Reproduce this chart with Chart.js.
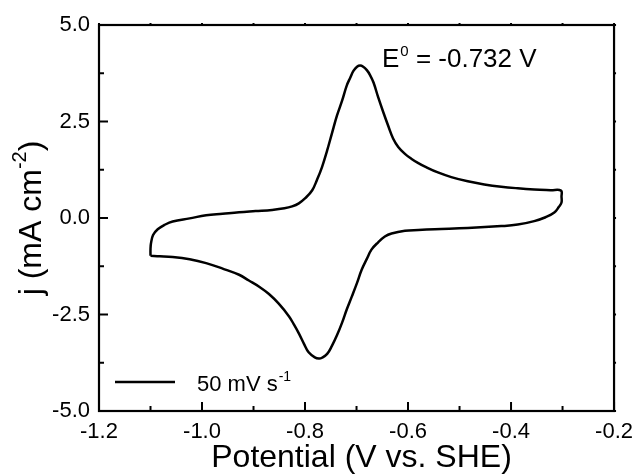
<!DOCTYPE html>
<html>
<head>
<meta charset="utf-8">
<script src="https://cdn.jsdelivr.net/npm/chart.js@4/dist/chart.umd.min.js"></script>
<style>
html,body{margin:0;padding:0;background:#fff;}
canvas{display:block;}
</style>
</head>
<body>
<canvas id="c" width="641" height="474"></canvas>
<script>
// ---- data ----
const potential = [
  -1.100,-1.100,-1.099,-1.095,-1.086,-1.073,-1.057,-1.024,-0.992,-0.960,
  -0.928,-0.896,-0.864,-0.840,-0.825,-0.812,-0.799,-0.786,-0.777,-0.767,
  -0.757,-0.748,-0.738,-0.728,-0.719,-0.712,-0.706,-0.699,-0.693,-0.687,
  -0.680,-0.674,-0.667,-0.658,-0.648,-0.638,-0.629,-0.619,-0.606,-0.593,
  -0.580,-0.567,-0.542,-0.516,-0.484,-0.452,-0.419,-0.387,-0.355,-0.323,
  -0.303,-0.302,-0.302,-0.307,-0.316,-0.333,-0.355,-0.387,-0.419,-0.484,
  -0.548,-0.580,-0.606,-0.632,-0.645,-0.658,-0.671,-0.680,-0.690,-0.699,
  -0.709,-0.719,-0.728,-0.738,-0.748,-0.757,-0.767,-0.773,-0.781,-0.793,
  -0.802,-0.812,-0.822,-0.831,-0.851,-0.870,-0.889,-0.909,-0.928,-0.960,
  -0.992,-1.024,-1.057,-1.082,-1.100
];
const current = [
  -0.98,-0.80,-0.65,-0.44,-0.29,-0.18,-0.09,-0.01,0.07,0.11,
  0.15,0.18,0.21,0.25,0.30,0.38,0.52,0.72,0.98,1.32,
  1.75,2.18,2.65,3.04,3.43,3.64,3.81,3.92,3.95,3.92,
  3.83,3.71,3.51,3.13,2.74,2.37,2.06,1.84,1.66,1.53,
  1.42,1.33,1.18,1.06,0.95,0.87,0.81,0.77,0.74,0.72,
  0.71,0.55,0.40,0.29,0.14,0.02,-0.08,-0.17,-0.21,-0.26,
  -0.29,-0.31,-0.33,-0.40,-0.48,-0.63,-0.82,-1.06,-1.34,-1.68,
  -2.03,-2.37,-2.71,-3.04,-3.32,-3.52,-3.62,-3.64,-3.61,-3.48,
  -3.26,-2.99,-2.75,-2.55,-2.22,-1.97,-1.78,-1.62,-1.47,-1.31,
  -1.17,-1.07,-1.01,-0.99,-0.98
];
const seriesLabel = "50 mV s";
const seriesLabelSup = "-1";
const xTicks = [-1.2,-1.0,-0.8,-0.6,-0.4,-0.2];
const xTickLabels = ["-1.2","-1.0","-0.8","-0.6","-0.4","-0.2"];
const xMinorTicks = [-1.1,-0.9,-0.7,-0.5,-0.3];
const yTicks = [-5.0,-2.5,0.0,2.5,5.0];
const yTickLabels = ["-5.0","-2.5","0.0","2.5","5.0"];
const yMinorTicks = [-3.75,-1.25,1.25,3.75];
const xTitle = "Potential (V vs. SHE)";
const yTitleMain = "j (mA cm";
const yTitleSup = "-2";
const yTitleEnd = ")";
const annotMain = "E";
const annotSup = "0";
const annotRest = " = -0.732 V";

const FONT = "'Liberation Sans', Arial, Helvetica, sans-serif";

const framePlugin = {
  id: 'frame',
  afterDraw(chart) {
    const ctx = chart.ctx;
    const {left, right, top, bottom} = chart.chartArea;
    const xs = chart.scales.x, ys = chart.scales.y;
    ctx.save();
    ctx.strokeStyle = '#000';
    ctx.lineWidth = 2.2;
    ctx.lineCap = 'butt';
    ctx.strokeRect(left, top, right - left, bottom - top);
    ctx.lineWidth = 2;
    const seg = (x1,y1,x2,y2) => { ctx.beginPath(); ctx.moveTo(x1,y1); ctx.lineTo(x2,y2); ctx.stroke(); };
    xTicks.forEach(v => { const p = xs.getPixelForValue(v); seg(p, bottom, p, bottom - 9); seg(p, top, p, top - 2); });
    xMinorTicks.forEach(v => { const p = xs.getPixelForValue(v); seg(p, bottom, p, bottom - 5); seg(p, top, p, top - 2); });
    yTicks.forEach(v => { const p = ys.getPixelForValue(v); seg(left, p, left + 9, p); seg(right, p, right + 2, p); });
    yMinorTicks.forEach(v => { const p = ys.getPixelForValue(v); seg(left, p, left + 5, p); seg(right, p, right + 2, p); });

    ctx.fillStyle = '#000';
    ctx.textBaseline = 'alphabetic';
    // x title
    ctx.font = '32px ' + FONT;
    ctx.textAlign = 'center';
    ctx.fillText(xTitle, (left + right) / 2 + 5, 467);

    // y title with superscript
    ctx.save();
    ctx.translate(41, (top + bottom) / 2);
    ctx.rotate(-Math.PI / 2);
    ctx.textAlign = 'left';
    ctx.font = '32px ' + FONT;
    const w1 = ctx.measureText(yTitleMain).width;
    const w3 = ctx.measureText(yTitleEnd).width;
    ctx.font = '20px ' + FONT;
    const w2 = ctx.measureText(yTitleSup).width;
    let x0 = -(w1 + w2 + w3) / 2;
    ctx.font = '32px ' + FONT;
    ctx.fillText(yTitleMain, x0, 0);
    ctx.font = '20px ' + FONT;
    ctx.fillText(yTitleSup, x0 + w1, -15);
    ctx.font = '32px ' + FONT;
    ctx.fillText(yTitleEnd, x0 + w1 + w2, 0);
    ctx.restore();

    // annotation
    ctx.textAlign = 'left';
    ctx.font = '26px ' + FONT;
    let ax = 382;
    ctx.fillText(annotMain, ax, 67);
    ax += ctx.measureText(annotMain).width;
    ctx.font = '15px ' + FONT;
    ctx.fillText(annotSup, ax + 1, 56);
    ax += ctx.measureText(annotSup).width + 1;
    ctx.font = '26px ' + FONT;
    ctx.fillText(annotRest, ax, 67);

    // legend
    const ds = chart.data.datasets[0];
    ctx.lineWidth = ds.borderWidth;
    seg(115, 382, 175, 382);
    ctx.font = '22px ' + FONT;
    ctx.fillText(ds.label, 197, 391);
    const lw = ctx.measureText(ds.label).width;
    ctx.font = '14px ' + FONT;
    ctx.fillText(seriesLabelSup, 197 + lw + 1, 381);
    ctx.restore();
  }
};

new Chart(document.getElementById('c'), {
  type: 'scatter',
  data: {
    datasets: [{
      label: seriesLabel,
      data: potential.map((v, i) => ({x: v, y: current[i]})),
      showLine: true,
      borderColor: '#000',
      borderWidth: 2.5,
      borderJoinStyle: 'round',
      pointRadius: 0,
      tension: 0.4,
      fill: false
    }]
  },
  options: {
    responsive: false,
    animation: false,
    layout: {padding: {top: 25, right: 24, left: 0, bottom: 0}},
    plugins: {legend: {display: false}, tooltip: {enabled: false}},
    scales: {
      x: {
        type: 'linear', min: -1.2, max: -0.2,
        afterBuildTicks: s => { s.ticks = xTicks.map(v => ({value: v})); },
        ticks: {
          callback: (v, i) => xTickLabels[i],
          font: {family: FONT, size: 22}, color: '#000', padding: 8, maxRotation: 0
        },
        grid: {display: true, drawOnChartArea: false, drawTicks: false, color: 'rgba(0,0,0,0)'},
        border: {display: false},
        afterFit: s => { s.height = 63; }
      },
      y: {
        type: 'linear', min: -5, max: 5,
        afterBuildTicks: s => { s.ticks = yTicks.map(v => ({value: v})); },
        ticks: {
          callback: (v, i) => yTickLabels[i],
          font: {family: FONT, size: 22}, color: '#000', padding: 9
        },
        grid: {display: true, drawOnChartArea: false, drawTicks: false, color: 'rgba(0,0,0,0)'},
        border: {display: false},
        afterFit: s => { s.width = 99; }
      }
    }
  },
  plugins: [framePlugin]
});
</script>
</body>
</html>
